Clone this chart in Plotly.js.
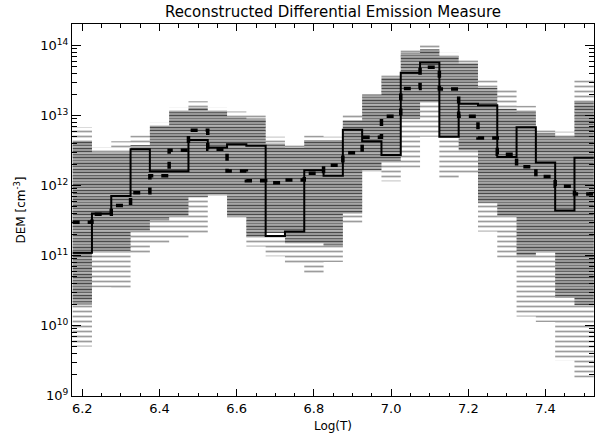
<!DOCTYPE html>
<html>
<head>
<meta charset="utf-8">
<script src="https://cdn.plot.ly/plotly-3.0.1.min.js"></script>
<style>html,body{margin:0;padding:0;background:#fff}#chart{width:600px;height:435px}</style>
</head>
<body>
<div id="chart"></div>
<script>
// Bin centres, log10(T)
const logT = [6.20,6.25,6.30,6.35,6.40,6.45,6.50,6.55,6.60,6.65,6.70,6.75,6.80,6.85,6.90,6.95,7.00,7.05,7.10,7.15,7.20,7.25,7.30,7.35,7.40,7.45,7.50];
// Solid step curve (reconstructed DEM)
const demSolid = [1.1e11,4.0e11,7.1e11,3.3e12,1.6e12,1.6e12,4.5e12,3.5e12,3.9e12,3.7e12,1.9e11,2.2e11,1.66e12,1.38e12,6.3e12,4.3e12,2.75e12,4.1e13,5.75e13,5.0e12,1.48e13,1.41e13,2.57e12,6.8e12,2.14e12,4.4e11,2.5e12];
// Dashed step curve
const demDashed = [3.0e11,3.9e11,5.2e11,7.9e11,1.38e12,3.2e12,6.2e12,3.3e12,1.62e12,1.17e12,1.1e12,1.2e12,1.5e12,1.95e12,2.95e12,4.9e12,9.8e12,2.45e13,4.9e13,2.4e13,9.8e12,4.8e12,2.8e12,1.86e12,1.35e12,9.8e11,7.6e11];
// Spread of Monte-Carlo solutions per bin
const spreadMax = [6.9e12,3.5e12,4.3e12,5.2e12,7.9e12,1.3e13,1.6e13,1.3e13,1.15e13,1.07e13,5.0e12,4.0e12,5.2e12,5.0e12,1.02e13,2.1e13,3.8e13,8.9e13,1.02e14,7.9e13,6.3e13,3.2e13,2.4e13,1.38e13,6.3e12,5.9e12,3.2e13];
const denseHi   = [4.2e12,3.0e12,3.0e12,3.8e12,6.9e12,1.15e13,1.3e13,1.15e13,9.5e12,9.1e12,4.0e12,3.5e12,4.5e12,4.5e12,8.5e12,2.0e13,3.5e13,7.9e13,8.9e13,7.1e13,5.6e13,2.5e13,1.26e13,1.12e13,5.6e12,5.0e12,1.6e13];
const denseLo   = [2.0e10,1.12e11,1.12e11,2.2e11,3.2e11,3.6e11,6.9e11,7.4e11,3.6e11,1.86e11,2.1e11,1.5e11,1.5e11,1.35e11,4.0e11,1.66e12,2.2e12,8.9e12,1.6e13,5.0e12,3.2e12,5.6e11,3.6e11,1.0e11,1.12e11,2.5e10,1.95e10];
const spreadMin = [5.0e9,3.5e10,3.3e10,1.05e11,1.5e11,1.7e11,2.0e11,7.1e11,3.4e11,1.35e11,9.8e10,7.8e10,5.6e10,8.1e10,2.75e11,1.6e12,1.15e12,1.8e12,5.0e12,1.26e12,1.5e12,2.2e11,9.3e10,1.35e10,1.12e10,3.2e9,1.8e9];
// Axis tick labels
const xTickVals = [6.2,6.4,6.6,6.8,7.0,7.2,7.4];
const xTickText = ["6.2","6.4","6.6","6.8","7.0","7.2","7.4"];
const yTickVals = [1e9,1e10,1e11,1e12,1e13,1e14];
const yTickText = ["10<sup>9</sup>","10<sup>10</sup>","10<sup>11</sup>","10<sup>12</sup>","10<sup>13</sup>","10<sup>14</sup>"];

const half = 0.025;
function boxes(lo, hi) {
  const xs = [], ys = [];
  for (let i = 0; i < logT.length; i++) {
    const a = logT[i] - half, b = logT[i] + half;
    xs.push(a, b, b, a, a, null);
    ys.push(lo[i], lo[i], hi[i], hi[i], lo[i], null);
  }
  return {xs, ys};
}
function steps(vals) {
  const xs = [], ys = [];
  for (let i = 0; i < logT.length; i++) { xs.push(logT[i] - half); ys.push(vals[i]); }
  xs.push(logT[logT.length - 1] + half); ys.push(vals[vals.length - 1]);
  return {xs, ys};
}
const outer = boxes(spreadMin, spreadMax);
const inner = boxes(denseLo, denseHi);
const sSolid = steps(demSolid);
const sDash = steps(demDashed);

function band(b, fill, pat) {
  return {x: b.xs, y: b.ys, mode: 'lines', fill: 'toself', line: {width: 0, color: 'rgba(0,0,0,0)'},
          fillcolor: fill, fillpattern: pat, hoverinfo: 'skip', showlegend: false};
}
const traces = [
  band(outer, '#ffffff', {shape: '-', fgcolor: '#9c9c9c', bgcolor: '#ffffff', size: 5, solidity: 0.35}),
  band(inner, '#a8a8a8', {shape: '-', fgcolor: '#4a4a4a', bgcolor: '#a8a8a8', size: 3, solidity: 0.45}),
  band(inner, 'rgba(0,0,0,0)', {shape: '-', fgcolor: 'rgba(255,255,255,0.5)', bgcolor: 'rgba(0,0,0,0)', fillmode: 'overlay', size: 7, solidity: 0.3}),
  {x: sSolid.xs, y: sSolid.ys, mode: 'lines', line: {shape: 'hv', color: '#000', width: 2}, showlegend: false},
  {x: sDash.xs, y: sDash.ys, mode: 'lines', line: {shape: 'hv', color: '#000', width: 3.5, dash: '7px,8px'}, showlegend: false},
  // empty trace so the mirrored top/right tick axes are drawn
  {x: [null], y: [null], xaxis: 'x2', yaxis: 'y2', mode: 'lines', showlegend: false, hoverinfo: 'skip'}
];

const yMinor = [];
for (let e = 9; e < 15; e++) for (let m = 2; m <= 9; m++) yMinor.push(m * Math.pow(10, e));

const font = {family: 'DejaVu Sans, Liberation Sans, sans-serif', color: '#000'};
const xRange = [6.1733, 7.5256];
const yRange = [8.993, 14.31];
const xMinor = {dtick: 0.05, tick0: 6.2, ticks: 'inside', ticklen: 3.5, tickcolor: '#000', showgrid: false};
const yMinorSpec = {tickvals: yMinor, ticks: 'inside', ticklen: 5, tickcolor: '#000', showgrid: false};
const layout = {
  width: 600, height: 435,
  margin: {l: 72, r: 6, t: 24, b: 39},
  paper_bgcolor: '#fff', plot_bgcolor: '#fff',
  font: Object.assign({size: 13}, font),
  title: {text: 'Reconstructed Differential Emission Measure', font: Object.assign({size: 15}, font),
          x: 0.5, xref: 'paper', xanchor: 'center', y: 0.972, yref: 'container', yanchor: 'middle'},
  xaxis: {
    range: xRange, showgrid: false, zeroline: false,
    showline: true, linecolor: '#000', linewidth: 1, mirror: true,
    ticks: 'inside', ticklen: 7, tickcolor: '#000', tickwidth: 1,
    tickvals: xTickVals, ticktext: xTickText,
    tickfont: Object.assign({size: 13}, font),
    minor: xMinor,
    title: {text: 'Log(T)', font: Object.assign({size: 12}, font), standoff: 7}
  },
  yaxis: {
    type: 'log', range: yRange, showgrid: false, zeroline: false,
    showline: true, linecolor: '#000', linewidth: 1, mirror: true,
    ticks: 'inside', ticklen: 9, tickcolor: '#000', tickwidth: 1,
    tickvals: yTickVals, ticktext: yTickText,
    tickfont: Object.assign({size: 13}, font),
    minor: yMinorSpec,
    title: {text: 'DEM [cm<sup>-3</sup>]', font: Object.assign({size: 12}, font), standoff: 12}
  },
  xaxis2: {
    overlaying: 'x', side: 'top', anchor: 'y2', range: xRange, showgrid: false, zeroline: false,
    showline: false, ticks: 'inside', ticklen: 7, tickcolor: '#000', tickwidth: 1,
    tickvals: xTickVals, showticklabels: false, minor: xMinor
  },
  yaxis2: {
    overlaying: 'y', side: 'right', anchor: 'x2', type: 'log', range: yRange, showgrid: false, zeroline: false,
    showline: false, ticks: 'inside', ticklen: 9, tickcolor: '#000', tickwidth: 1,
    tickvals: yTickVals, showticklabels: false, minor: yMinorSpec
  }
};
Plotly.newPlot('chart', traces, layout, {displayModeBar: false, staticPlot: true});
</script>
</body>
</html>
